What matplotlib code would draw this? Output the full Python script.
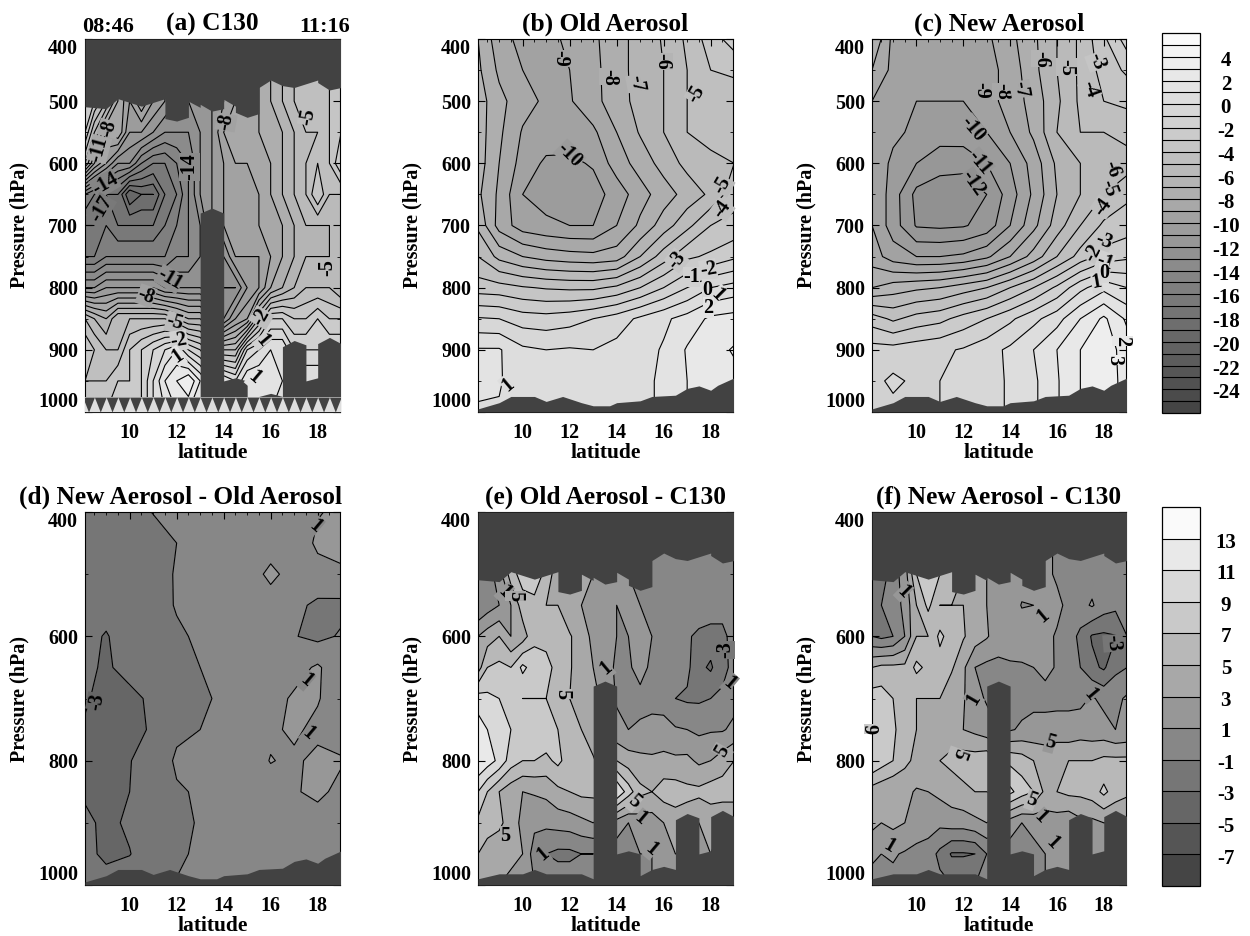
import numpy as np
import matplotlib
matplotlib.use('Agg')
import matplotlib.pyplot as plt
from matplotlib.colors import BoundaryNorm, ListedColormap

plt.rcParams['font.family'] = ['Liberation Serif', 'DejaVu Serif']
plt.rcParams['font.weight'] = 'bold'
plt.rcParams['contour.negative_linestyle'] = 'solid'

W, H = 1250, 936
lats = [8.1, 9, 10, 11, 12, 13, 14, 15, 16, 17, 18, 19]
lats_obs = [8.1, 8.5, 9, 9.5, 10, 10.5, 11, 11.5, 12, 12.5, 13, 13.5, 14, 14.5, 15, 15.5, 16, 16.5, 17, 17.5, 18, 18.5, 19]
p_all = [400, 450, 500, 550, 600, 650, 700, 750, 800, 850, 900, 950, 1000]
p_obs = [450, 500, 550, 600, 650, 700, 750, 800, 850, 900, 950, 1000]

field_a = [
    [-2, -3, -5, -8, -10, -8, -10, -11, -12, -12, -11, -11, -10, -9, -9, -8, -7, -6, -5, -4, -4, -4, -3],
    [-2, -3, -5, -8, -10, -8, -10, -11, -12, -12, -11, -11, -10, -9, -9, -8, -7, -6, -5, -4, -4, -4, -3],
    [-3, -6, -9, -8, -11, -11, -12, -13, -13, -13, -12, -11, -9, -8, -8, -8, -7, -7, -6, -5, -5, -4, -3],
    [-6, -9, -11, -13, -13, -15, -16, -16, -15, -14, -12, -11, -10, -9, -9, -8, -8, -7, -6, -5, -4, -4, -2],
    [-15, -16, -17, -17, -20, -19, -19, -17, -16, -14, -12, -11, -10, -9, -9, -9, -8, -7, -6, -5, -3, -5, -5],
    [-17, -17, -16, -17, -17, -17, -17, -16, -15, -14, -13, -11, -10, -9, -9, -9, -8, -8, -7, -6, -6, -6, -5],
    [-16, -16, -15, -15, -15, -15, -15, -15, -14, -14, -13, -12, -12, -10, -10, -10, -9, -8, -7, -6, -6, -6, -5],
    [-12, -12, -11, -11, -11, -11, -11, -12, -12, -12, -12, -13, -13, -13, -11, -10, -8, -7, -6, -5, -5, -5, -6],
    [-5, -6, -7, -5, -5, -5, -5, -5, -6, -7, -7, -9, -12, -10, -9, -5, -2, -2, -3, -3, -2, -3, -3],
    [-3, -4, -5, -5, -3, -2, -1, 0, 1, -1, -2, -4, -5, -5, -1, 0, 1, 1, -1, -1, -1, -1, -1],
    [-4, -4, -4, -3, -3, -2, 0, 2, 3, 4, 2, 0, 1, 0, 2, 2, 2, 1, 1, 1, 1, 1, 1],
    [-3, -3, -3, -2, -2, -2, 0, 1, 2, 2, 1, 0, 0, 0, 1, 1, 1, 1, 1, 1, 1, 1, 1],
]
field_b = [
    [-7, -8.6, -9.3, -9.3, -8.8, -8.2, -7.4, -6.6, -5.9, -4.8, -3.5, -2.5],
    [-6.8, -8.2, -9, -9.3, -9, -8.3, -7.4, -6.6, -6, -5, -4, -3.8],
    [-6.5, -7.7, -8.6, -9.2, -9.1, -8.3, -7.5, -6.6, -6, -5, -4.7, -4.6],
    [-6.5, -7.8, -9.1, -9.4, -9.5, -9.2, -8, -6.9, -6, -5, -4.6, -4.6],
    [-6.5, -8, -9.4, -10.2, -10.2, -9.9, -8.5, -7.6, -6.6, -5.7, -5.3, -5],
    [-6.8, -8.2, -10, -10.4, -10.5, -10.4, -9.6, -8.4, -7.5, -6.6, -5.8, -4.4],
    [-6.2, -8.4, -9.5, -9.8, -10, -10, -9, -7.8, -6.5, -5.3, -4, -3.7],
    [-5, -6.3, -7, -7.4, -7.6, -7.7, -7.5, -6, -4.5, -3.2, -2.8, -2.2],
    [-3.5, -3.6, -3.9, -4.1, -4.2, -4.2, -3.8, -3, -2, -1, 0, 0.4],
    [-0.9, -1, -1.5, -1.6, -1.4, -1, -0.5, 0.2, 0.8, 1.4, 2.2, 2.4],
    [1.1, 1.1, 0.2, 0, 0.1, 0, 0.3, 0.6, 1.1, 2.1, 2.6, 3.1],
    [1.2, 1.1, 0.4, 0.5, 0.5, 0.5, 0.5, 0.7, 1.2, 2, 2.5, 2.7],
    [0.9, 0.9, 0.5, 0.5, 0.5, 0.5, 0.6, 0.7, 1.2, 2, 2.5, 2.7],
]
field_c = [
    [-7, -9.3, -9.8, -9.8, -9.7, -9.2, -8.3, -7.2, -6, -4.8, -3.2, -1.5],
    [-8, -9.3, -9.8, -9.9, -9.8, -9.4, -8.6, -7.3, -6, -4.8, -3.6, -2.8],
    [-9, -9, -10, -10, -10, -9.4, -8.6, -7.6, -6.2, -4.8, -4, -3.8],
    [-9, -9.7, -10.3, -10.5, -10.4, -10, -9, -7.8, -6, -5, -5, -4.6],
    [-9, -10.3, -11, -11.6, -11.7, -11, -10, -8.6, -6.8, -6, -5.8, -5.5],
    [-9, -10.5, -12.3, -12.6, -12.6, -12, -10.5, -8.8, -7, -6, -5, -4.2],
    [-9, -10.5, -12.1, -12.2, -12.1, -11.6, -10, -8.3, -6.5, -5, -3.8, -3.5],
    [-8.5, -9.5, -10, -10, -9.8, -9.2, -8, -6.6, -5, -3.6, -2.6, -2.2],
    [-7, -6.5, -6.2, -6, -5.5, -5, -4, -3, -1.8, -0.3, 0.7, 0],
    [-3.5, -4.2, -3.6, -3.3, -2.6, -2, -1.2, -0.3, 0.6, 2, 3.2, 1.8],
    [-1.6, -1.6, -1.4, -1.2, -0.9, -0.4, 0.2, 1, 2, 3, 3.6, 2.5],
    [-1.3, -0.8, -1.2, -1, -0.7, -0.3, 0.1, 0.8, 1.9, 3, 3.6, 2.6],
    [-1.3, -1.3, -1.2, -1, -0.7, -0.3, 0.1, 0.8, 1.9, 3, 3.6, 2.6],
]
field_d = [
    [-2.2, -2.2, -1.5, -0.95, -0.8, -0.5, -0.4, -0.3, -0.2, 0, 0.9, 1.3],
    [-2.2, -2.2, -2, -1.6, -1, -0.5, -0.4, -0.3, -0.2, -0.1, 1.3, 1.4],
    [-2.2, -2.2, -2, -1.5, -0.9, -0.5, -0.4, -0.3, 1.6, 0, 0.4, 0.8],
    [-2.3, -2.5, -2, -1.6, -0.9, -0.6, -0.4, -0.3, -0.2, -0.5, -1.4, -1.5],
    [-2.6, -3.1, -2.3, -1.7, -1.2, -0.8, -0.4, -0.3, -0.3, -0.9, -1.5, -0.8],
    [-2.7, -3.2, -2.5, -1.9, -1.4, -1, -0.5, -0.2, 0, 0.2, 1.3, -0.5],
    [-2.9, -3.3, -3.4, -2.7, -1.6, -1.2, -0.8, -0.2, 0.2, 1.3, 1.2, -0.6],
    [-3.1, -3.6, -3.5, -2.8, -1.4, -1, -0.6, -0.2, 0.6, 1.4, 0.4, 0],
    [-3.3, -3.5, -3.05, -2.4, -0.7, -0.6, -0.4, -0.2, 1.1, 0.6, 1.6, 1.2],
    [-3.2, -3.5, -3, -2.3, -1.2, -0.8, -0.4, -0.2, 0, 0.8, 1.5, 0.4],
    [-2.7, -3.3, -2.8, -2.2, -1.6, -0.8, -0.4, -0.2, 0, 0, 0, 0],
    [-2.6, -3.3, -3.05, -2.2, -1.3, -0.7, -0.4, -0.2, 0, 0, 0, 0],
    [-2.4, -2.4, -2.2, -1.8, -0.9, -0.6, -0.4, -0.2, 0, 0, 0, 0],
]
field_e = [
    [0, 0, 2, 6, 8, 9, 6, 4, 4, 4, 3, 2, 1.5, 1, 0.8, 0.5, 0.5, 0.5, 0.5, 0.5, 0.3, 0.3, 0.3],
    [0, 0, 2, 6, 8, 9, 6, 4, 4, 4, 3, 2, 1.5, 1, 0.8, 0.5, 0.5, 0.5, 0.5, 0.5, 0.3, 0.3, 0.3],
    [-1, 0, 1, 3, 6, 6, 5, 5, 3.5, 3, 2.5, 1.5, 1, 2, 1, 0.8, 0.7, 0.5, 0.5, 0.5, 0.5, 0.5, 0.5],
    [3, 4, 5, 3, 4, 6.5, 6.5, 6, 5.2, 4, 2.5, 1.2, 1, 1, 1.5, 1, 0.3, 0, -0.7, -1.5, -2, -2, 0.5],
    [4, 7, 7.5, 7, 9.5, 8, 7.5, 6.5, 5.2, 4, 3, 1.5, 0.8, 0.8, 1.5, 0.7, 0.3, 0.5, -0.5, -2.5, -3.3, -1.5, -0.5],
    [10, 9.5, 9, 8, 7, 7, 7, 6, 5, 4.5, 3.5, 2.5, 0.8, 0.6, 0.6, 0.6, 0.3, -1, -1.3, -1.3, -1, -0.7, 0.3],
    [12, 11, 11, 9, 8, 9, 8.5, 7, 5.8, 5, 4, 3, 1.5, 1, 1.2, 1.4, 1.6, 1.2, 1, 0.6, 0.8, 0.8, 1.5],
    [13, 12, 10.5, 8, 7, 7, 6.5, 7.5, 6, 5.5, 5.2, 4, 5, 4, 3.6, 3.4, 3.6, 3.4, 3.5, 2.6, 3, 4, 5],
    [9, 7, 5, 3.8, 3, 3.2, 3.5, 4.5, 5, 5.5, 5.5, 6, 11, 8, 5.5, 5, 6, 6, 5.5, 5.5, 6, 6, 6],
    [6.5, 5.5, 5.5, 4, 2.5, 1.5, 1.5, 1.8, 2, 2.5, 3, 2, 2, 1, 2, 2, 3, 4, 4, 3, 3.5, 3, 3],
    [5, 4.5, 3.5, 3.5, 3, 0, -1, -1.5, -1.5, -1, -1, -0.5, 0, 0.5, 1, 1, 2, 3, 3, 3, 3, 3, 3],
    [3, 3, 3, 2.5, 2, 1, 0.5, 0.5, 0.5, 0.5, 0.5, 0.5, 0.5, 0.5, 1, 1, 2, 3, 3, 3, 3, 3, 3],
]
field_f = [
    [-3, -2, 0, 2, 7, 8, 7, 6, 5, 4.5, 3, 2.5, 2.5, 1.8, 1.5, 1.5, 0.7, 0.5, 0.5, 0.2, 0, -0.5, -0.5],
    [-3, -2, 0, 2, 7, 8, 7, 6, 5, 4.5, 3, 2.5, 2.5, 1.8, 1.5, 1.5, 0.7, 0.5, 0.5, 0.2, 0, -0.5, -0.5],
    [-3, -1, 0, 1.5, 5, 7.5, 5, 5, 5, 4.2, 3, 2, 2, 0.9, 1, 1.2, 1.5, 0.5, 0.4, 1.2, 0, -0.5, -0.7],
    [-1, -1.5, -1, 1, 5, 5, 7.5, 6, 5.2, 4, 3.2, 2, 2.5, 2, 1.5, 1.5, 0.8, 0, -1.5, -3.2, -3.4, -3.1, -1],
    [5, 5.5, 5.5, 5.5, 7.5, 6.5, 6, 5.3, 3.4, 1, 0.5, 0.5, 0.6, 0.8, 1, 1.3, 0.9, 0.5, -1, -2.5, -3.3, -1.5, -1],
    [8, 8, 7, 5.5, 5, 5, 5, 3.5, 3.2, 1.6, 0.8, 0.5, 0.3, 0.3, 0.6, 0.6, 0.6, 0.6, 0.5, 1.2, 0.5, 0.5, 1.3],
    [9, 8, 7.5, 5.5, 5, 5, 4.5, 4, 3, 2.5, 1.8, 1, 0.8, 1.3, 1.5, 1.5, 1.6, 1.6, 2, 1.8, 1.7, 1, 1.3],
    [9, 8, 7, 5.5, 4.5, 4.5, 5, 5.5, 6, 6, 6.5, 5, 6.5, 6, 5, 4.5, 5, 5, 5, 5, 5.5, 5.5, 5.5],
    [4, 3.5, 3, 3.5, 2.8, 3, 3.5, 4, 4.5, 5, 5, 5.5, 9.5, 8, 7, 4.5, 5, 5.5, 5.5, 6, 7.5, 6, 5.5],
    [3.5, 3, 3.5, 3, 3, 2, 1.5, 2, 2, 2.5, 3, 2, 2, 1, 1.5, 2, 2, 1.5, 2.5, 2.5, 3, 3, 2.5],
    [1.5, 1, 1.2, 0.8, 0, 0, -1.5, -3.2, -3.2, -3, -1, -0.5, 0, 0.5, 0.5, 1, 1.5, 1.5, 1.5, 1.5, 1.5, 1.5, 1.5],
    [0, 0.5, 0.5, 0.5, 0.5, 0.5, -0.5, -1, -1, -1, -0.5, 0, 0.5, 0.5, 1, 1, 1.5, 1.5, 1.5, 1.5, 1.5, 1.5, 1.5],
]

# edge of the missing data above and below the flight track
top_lat = [8.1, 9, 9.5, 10.5, 11.5, 11.5, 12, 12.5, 12.5, 13, 13, 13.5, 14, 14, 14.5, 14.5, 15, 15.5, 15.5, 16, 16.5, 17, 17.5, 18, 18, 18.5, 19]
top_p = [509, 512, 496, 508, 496, 528, 532, 526, 500, 510, 505, 516, 512, 497, 508, 518, 526, 520, 478, 466, 475, 478, 472, 466, 470, 482, 478]
obs_lat = [8.1, 9, 10, 10.5, 11, 12.5, 13, 13, 13.5, 14, 14, 14.5, 15, 15, 15.5, 16, 16.5, 16.5, 17, 17.5, 17.5, 18, 18, 18.5, 19]
obs_p = [990, 982, 982, 975, 982, 982, 990, 680, 672, 680, 950, 945, 950, 985, 975, 970, 975, 895, 885, 892, 950, 945, 890, 880, 890]
ground_lat = [8.1, 9, 9.5, 10.5, 11, 11.7, 12.5, 13, 13.7, 14, 15, 15.5, 16.5, 17, 17.5, 18, 18.3, 19]
ground_p = [995, 985, 975, 975, 983, 975, 985, 990, 990, 985, 982, 975, 973, 962, 958, 965, 957, 945]

labels_a = [('-8', 14.1, 534, 80), ('-5', 17.6, 525, 80), ('-14', 12.55, 606, 90), ('-11', 8.7, 577, 75),
            ('-8', 9.1, 544, 75), ('-14', 8.95, 633, 30), ('-17', 8.8, 673, 60), ('-5', 18.4, 768, 90),
            ('-11', 11.7, 786, -30), ('-8', 10.7, 813, -20), ('-5', 11.9, 856, -15), ('-2', 12.1, 885, 10),
            ('1', 12.05, 910, 35), ('-2', 15.6, 848, 60), ('1', 15.65, 885, -50), ('1', 15.3, 945, -40)]
labels_b = [('-9', 11.6, 431, -90), ('-8', 13.7, 461, -90), ('-7', 14.85, 471, -80), ('-6', 15.95, 436, -90),
            ('-5', 17.4, 489, 60), ('-10', 12, 587, -45), ('-5', 18.5, 635, 60), ('-4', 18.5, 674, 55),
            ('-3', 16.55, 756, 50), ('-2', 17.9, 771, 10), ('-1', 17.2, 783, 0), ('0', 17.85, 803, 0),
            ('1', 18.3, 811, -45), ('2', 17.9, 832, 0), ('1', 9.36, 957, 40)]
labels_c = [('-6', 15.33, 432, -90), ('-5', 16.4, 445, -90), ('-3', 17.7, 436, -70), ('-4', 17.4, 481, -70),
            ('-9', 12.75, 482, -90), ('-8', 13.65, 485, -90), ('-7', 14.45, 481, -80), ('-10', 12.4, 545, -50),
            ('-11', 12.7, 599, -50), ('-12', 12.4, 632, -55), ('-6', 18.35, 610, -70), ('-5', 18.2, 640, -70),
            ('-4', 17.95, 670, 55), ('-3', 18, 725, -20), ('-2', 17.55, 745, 60), ('-1', 18.05, 759, -20),
            ('0', 18, 776, 0), ('1', 17.7, 792, 10), ('2', 18.8, 886, -90), ('3', 18.45, 916, -90)]
labels_d = [('-3', 8.6, 705, 80), ('1', 17.9, 423, -40), ('1', 17.5, 671, -40), ('1', 17.6, 756, -40)]
labels_e = [('1', 9.22, 529, -45), ('5', 9.7, 535, -90), ('1', 13.55, 651, 40), ('5', 11.67, 693, -90),
            ('-3', 18.6, 622, 90), ('1', 18.8, 675, -40), ('5', 18.5, 785, 60), ('5', 14.75, 866, -40),
            ('1', 15, 893, -40), ('5', 9.25, 921, 0), ('1', 10.85, 950, 40), ('1', 15.5, 943, -40)]
labels_f = [('1', 9.45, 528, -45), ('1', 15.4, 567, 40), ('-3', 18.4, 611, -85), ('1', 12.45, 701, 60),
            ('1', 17.45, 693, -50), ('6', 8.2, 749, 90), ('5', 15.7, 771, -15), ('5', 11.8, 789, -110),
            ('5', 14.9, 863, -20), ('1', 15.3, 891, -45), ('1', 15.8, 932, -45), ('1', 8.85, 938, -30)]

levels_t = np.arange(-26, 7, 1)
levels_d = np.arange(-9, 16, 2)
ticks_t = np.arange(-24, 5, 2)
ticks_d = np.arange(-7, 14, 2)


def gray_map(levels):
    n = len(levels) - 1
    colors = [str(g) for g in np.linspace(0.27, 0.98, n)]
    return ListedColormap(colors), BoundaryNorm(levels, n)


def make_axes(x0, y0, x1, y1):
    return fig.add_axes([x0 / W, 1 - y1 / H, (x1 - x0) / W, (y1 - y0) / H])


def panel(box, title, x, press, field, levels, labels, top_row, mask=None, title_kw={}):
    ax = make_axes(*box)
    cmap, norm = gray_map(levels)
    z = np.array(field, dtype=float)
    cf = ax.contourf(x, press, z, levels=levels, cmap=cmap, norm=norm)
    ax.contour(x, press, z, levels=levels, colors='k', linewidths=0.8)
    dark = '0.26'
    if mask == 'obs':
        ax.fill_between(top_lat, 400, top_p, color=dark, lw=0, zorder=3)
        ax.fill_between(obs_lat, obs_p, 1000, color=dark, lw=0, zorder=3)
    elif mask == 'ground':
        ax.fill_between(ground_lat, ground_p, 1000, color=dark, lw=0, zorder=3)
    for txt, la, pr, rot in labels:
        # box behind the number takes the shade of the field under it
        col = [np.interp(la, x, row) for row in z]
        v = np.interp(pr, press, col)
        ax.text(la, pr, txt, rotation=rot, ha='center', va='center', fontsize=14.5, zorder=4,
                rotation_mode='anchor', bbox=dict(fc=cmap(norm(v)), ec='none', pad=0.2))
    ax.set_xlim(8.1, 18.95)
    ax.set_ylim(1000, 400)
    ax.set_xticks([10, 12, 14, 16, 18])
    ax.set_xticks(np.arange(8.5, 19, 0.5), minor=True)
    if top_row:
        ax.set_yticks([400, 500, 600, 700, 800, 900, 1000])
        ax.set_yticks(np.arange(400, 1001, 50), minor=True)
    else:
        ax.set_yticks([400, 600, 800, 1000])
        ax.set_yticks(np.arange(400, 1001, 100), minor=True)
    ax.tick_params(which='major', direction='in', top=True, right=True, length=5, width=0.8, labelsize=14.5, pad=5)
    ax.tick_params(which='minor', direction='in', top=True, right=True, length=2.5, width=0.6)
    ax.tick_params(axis='x', which='major', pad=8)
    ylab = ax.get_yticklabels()
    ylab[0].set_va('top')
    ylab[-1].set_va('bottom')
    ax.set_xlabel('latitude', fontsize=15.5, fontweight='bold', labelpad=0)
    ax.set_ylabel('Pressure (hPa)', fontsize=14.5, fontweight='bold', labelpad=6)
    ax.set_title(title, fontsize=18.3, fontweight='bold', pad=6, **title_kw)
    for s in ax.spines.values():
        s.set_linewidth(0.8)
    return ax, cf


def color_bar(box, cf, ticks, labels):
    cax = make_axes(*box)
    cb = fig.colorbar(cf, cax=cax, drawedges=True)
    cb.dividers.set_color('k')
    cb.dividers.set_linewidth(0.8)
    cb.outline.set_linewidth(0.9)
    cax.tick_params(length=0)
    cax.set_yticks([])
    cax.minorticks_off()
    for v, s in zip(ticks, labels):
        cax.annotate(s, xy=(1.68, v), xycoords=('axes fraction', 'data'), xytext=(0, -3), textcoords='offset points',
                     ha='center', va='center', fontsize=15, annotation_clip=False)
    return cax


fig = plt.figure(figsize=(12.5, 9.36), dpi=100)

ax_a, cf_a = panel((85, 39, 340, 412), '(a) C130', lats_obs, p_obs, field_a, levels_t, labels_a, True, mask='obs')
panel((478, 39, 733, 412), '(b) Old Aerosol', lats, p_all, field_b, levels_t, labels_b, True, mask='ground')
_, cf_c = panel((872, 39, 1126, 412), '(c) New Aerosol', lats, p_all, field_c, levels_t, labels_c, True, mask='ground')
panel((85, 512, 340, 885), '(d) New Aerosol - Old Aerosol', lats, p_all, field_d, levels_d, labels_d, False,
      mask='ground', title_kw=dict(x=1.01, ha='right'))
panel((478, 512, 733, 885), '(e) Old Aerosol - C130', lats_obs, p_obs, field_e, levels_d, labels_e, False, mask='obs')
_, cf_f = panel((872, 512, 1126, 885), '(f) New Aerosol - C130', lats_obs, p_obs, field_f, levels_d, labels_f, False, mask='obs')

# (a) also loses the lowest leg of the flight: light strip with dark teeth
tooth_lat = np.arange(8.0, 19.01, 0.25)
tooth_p = [976 if i % 2 == 0 else 1000 for i in range(len(tooth_lat))]
ax_a.fill_between([8.1, 19], 976, 1000, color='0.87', lw=0, zorder=3.1)
ax_a.fill_between(tooth_lat, 976, tooth_p, color='0.26', lw=0, zorder=3.2)

for a_txt, xp in [('08:46', 108), ('11:16', 325)]:
    fig.text(xp / W, 1 - 27 / H, a_txt, ha='center', va='center', fontsize=16, fontweight='bold')

color_bar((1162, 33, 1200, 413), cf_c, ticks_t, [str(v) for v in ticks_t])
color_bar((1162, 507, 1200, 886), cf_f, ticks_d, [str(v) for v in ticks_d])

fig.savefig('out.png', dpi=100)
